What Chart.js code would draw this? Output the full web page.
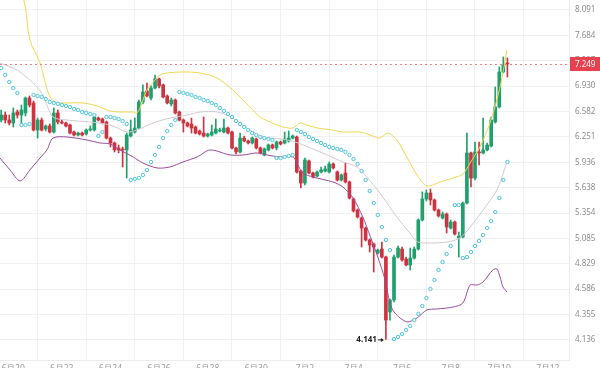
<!DOCTYPE html>
<html>
<head>
<meta charset="utf-8">
<script src="https://cdn.jsdelivr.net/npm/chart.js@4.4.1/dist/chart.umd.min.js"></script>
<style>
  html, body { margin: 0; padding: 0; background: #fff; }
  #wrap { width: 600px; height: 368px; }
</style>
</head>
<body>
<div id="wrap"><canvas id="chart"></canvas></div>
<script>
// 4h candles, index 0 = 6月20 00:00
const firstCandle = -3;
const candlesPerDay = 6;

const opens = [
  6.469, 6.535, 6.469, 6.430, 6.575, 6.535, 6.562, 6.765, 6.697, 6.339,
  6.469, 6.352, 6.391, 6.313, 6.562, 6.443, 6.430, 6.404, 6.313, 6.275,
  6.300, 6.288, 6.339, 6.339, 6.495, 6.482, 6.443, 6.236, 6.174, 6.112,
  6.099, 6.087, 6.262, 6.313, 6.365, 6.711, 6.862, 6.765, 6.904, 7.032,
  6.947, 6.793, 6.684, 6.738, 6.575, 6.469, 6.430, 6.417, 6.378, 6.326,
  6.300, 6.262, 6.275, 6.300, 6.326, 6.313, 6.365, 6.313, 6.112, 6.062,
  6.236, 6.199, 6.174, 6.224, 6.112, 6.025, 6.087, 6.149, 6.112, 6.186,
  6.174, 6.199, 6.236, 6.249, 5.832, 5.691, 5.952, 5.808, 5.773, 5.820,
  5.832, 5.820, 5.916, 5.820, 5.726, 5.808, 5.703, 5.509, 5.387, 5.300,
  5.193, 5.069, 5.027, 4.936, 4.976, 4.896, 4.378, 4.486, 4.896, 4.976,
  4.876, 4.817, 4.886, 4.976, 5.279, 5.509, 5.577, 5.498, 5.387, 5.300,
  5.344, 5.193, 5.257, 5.089, 5.099, 5.464, 6.050, 5.749, 6.062, 6.050,
  6.087, 6.136, 6.443, 6.643, 7.133, 7.264
];
const highs = [
  6.602, 6.575, 6.535, 6.629, 6.602, 6.670, 6.779, 6.793, 6.724, 6.495,
  6.495, 6.404, 6.417, 6.629, 6.602, 6.469, 6.443, 6.417, 6.326, 6.313,
  6.313, 6.352, 6.391, 6.535, 6.509, 6.495, 6.456, 6.249, 6.186, 6.149,
  6.124, 6.300, 6.469, 6.495, 6.738, 6.947, 6.975, 6.933, 7.089, 7.046,
  6.961, 6.807, 6.765, 6.752, 6.589, 6.482, 6.443, 6.495, 6.391, 6.339,
  6.509, 6.300, 6.404, 6.482, 6.365, 6.482, 6.378, 6.326, 6.124, 6.300,
  6.262, 6.211, 6.249, 6.236, 6.124, 6.112, 6.161, 6.161, 6.199, 6.199,
  6.313, 6.326, 6.275, 6.262, 5.844, 5.988, 5.964, 5.820, 5.832, 5.880,
  5.892, 5.940, 5.928, 5.832, 5.796, 5.928, 5.714, 5.520, 5.398, 5.311,
  5.204, 5.079, 5.038, 4.976, 5.048, 4.906, 4.495, 4.916, 5.007, 4.997,
  4.896, 4.986, 4.997, 5.290, 5.589, 5.611, 5.622, 5.509, 5.398, 5.365,
  5.355, 5.279, 5.268, 5.151, 5.476, 6.300, 6.062, 6.186, 6.186, 6.495,
  6.174, 6.509, 6.918, 7.206, 7.354, 7.339
];
const lows = [
  6.443, 6.430, 6.404, 6.378, 6.495, 6.430, 6.522, 6.643, 6.326, 6.236,
  6.326, 6.326, 6.300, 6.300, 6.417, 6.417, 6.378, 6.288, 6.262, 6.262,
  6.262, 6.275, 6.326, 6.326, 6.456, 6.417, 6.224, 6.124, 6.062, 6.050,
  5.880, 5.750, 6.249, 6.300, 6.352, 6.684, 6.779, 6.738, 6.890, 6.904,
  6.765, 6.684, 6.656, 6.549, 6.456, 6.313, 6.378, 6.300, 6.288, 6.275,
  6.249, 6.249, 6.262, 6.288, 6.313, 6.300, 6.288, 6.099, 6.037, 6.050,
  6.186, 6.161, 6.161, 6.099, 6.037, 6.013, 6.074, 6.099, 6.087, 6.149,
  6.161, 6.186, 6.224, 5.808, 5.634, 5.668, 5.796, 5.750, 5.761, 5.808,
  5.820, 5.808, 5.856, 5.714, 5.714, 5.691, 5.509, 5.365, 5.300, 4.997,
  5.058, 4.946, 4.749, 4.926, 4.886, 4.141, 4.307, 4.468, 4.886, 4.856,
  4.807, 4.769, 4.876, 4.966, 5.268, 5.487, 5.442, 5.376, 5.311, 5.290,
  5.141, 5.183, 5.120, 4.896, 5.089, 5.453, 5.645, 5.726, 5.904, 6.037,
  6.074, 6.124, 6.430, 6.629, 7.118, 7.060
];
const closes = [
  6.535, 6.469, 6.430, 6.562, 6.535, 6.602, 6.765, 6.670, 6.339, 6.469,
  6.339, 6.391, 6.313, 6.562, 6.443, 6.430, 6.391, 6.300, 6.275, 6.300,
  6.275, 6.339, 6.352, 6.509, 6.469, 6.430, 6.236, 6.174, 6.087, 6.087,
  6.087, 6.275, 6.339, 6.365, 6.711, 6.848, 6.793, 6.904, 7.032, 6.933,
  6.779, 6.697, 6.738, 6.562, 6.469, 6.430, 6.391, 6.365, 6.300, 6.288,
  6.262, 6.288, 6.313, 6.352, 6.339, 6.365, 6.300, 6.112, 6.062, 6.236,
  6.199, 6.174, 6.236, 6.112, 6.050, 6.099, 6.149, 6.112, 6.186, 6.161,
  6.224, 6.236, 6.262, 5.820, 5.691, 5.964, 5.808, 5.761, 5.820, 5.844,
  5.856, 5.916, 5.868, 5.726, 5.785, 5.703, 5.520, 5.376, 5.311, 5.193,
  5.069, 5.017, 4.997, 4.966, 4.896, 4.307, 4.486, 4.896, 4.986, 4.866,
  4.817, 4.886, 4.976, 5.279, 5.509, 5.577, 5.498, 5.387, 5.322, 5.344,
  5.204, 5.257, 5.130, 5.110, 5.464, 6.050, 5.749, 6.062, 6.050, 6.087,
  6.149, 6.469, 6.643, 7.133, 7.235, 7.249
];

// parabolic SAR, one value per candle
const sarValues = [
  7.191, 7.089, 6.989, 6.904, 6.835, 6.404, 6.404, 6.417,
  6.807, 6.793, 6.779, 6.752, 6.711, 6.697, 6.684, 6.670, 6.656, 6.643, 6.616, 6.602, 6.575, 6.562, 6.549, 6.535,
  6.262, 6.313,
  6.509, 6.509, 6.495, 6.482, 6.456, 6.417,
  5.726, 5.738, 5.750, 5.785, 5.844, 5.940, 6.025, 6.124, 6.236, 6.326, 6.404, 6.469,
  6.848, 6.835, 6.821, 6.807, 6.779, 6.765, 6.738, 6.724, 6.697, 6.670, 6.629, 6.589,
  6.549, 6.509, 6.456, 6.417, 6.378, 6.339, 6.300, 6.275, 6.249, 6.236, 6.224, 6.211,
  5.988, 5.988, 6.001, 6.013, 6.025,
  6.339, 6.313, 6.288, 6.249, 6.224, 6.199, 6.174, 6.149, 6.124, 6.112, 6.099, 6.087,
  6.062, 6.025, 5.976, 5.916, 5.832, 5.726, 5.600, 5.464, 5.333, 5.204, 5.069, 4.966,
  4.144, 4.161, 4.186, 4.221, 4.256, 4.307, 4.361, 4.432, 4.504, 4.588, 4.673, 4.769, 4.846, 4.926, 5.007,
  5.442, 5.442,
  4.886, 4.896, 4.946, 5.007, 5.058, 5.120, 5.193, 5.268, 5.365, 5.520, 5.726, 5.940
];

// bands, read at candle positions
const upperAt = [-3.0, 2.6, 4.1, 6.6, 8.8, 10.3, 13.3, 17.2, 20.7, 23.9, 26.3, 29.6, 30.5, 31.3, 33.0, 35.0, 36.2, 38.0, 41.9, 46.1,
  50.3, 54.2, 58.4, 60.9, 63.4, 66.6, 69.1, 70.8, 72.5, 75.0, 78.9, 81.4, 85.6, 88.1, 90.5, 92.5, 94.7, 96.2, 99.7, 102.1,
  105.4, 108.6, 111.0, 112.8, 115.2, 117.7, 119.4, 120.7, 121.9];
const upperVal = [9.329, 8.257, 7.612, 7.264, 6.807, 6.711, 6.697, 6.697, 6.656, 6.589, 6.575, 6.575, 6.562, 6.629, 6.876, 7.018, 7.089, 7.118, 7.133, 7.118,
  7.046, 6.876, 6.643, 6.509, 6.443, 6.378, 6.365, 6.430, 6.404, 6.365, 6.339, 6.313, 6.313, 6.275, 6.236, 6.300, 6.211, 6.087, 5.785, 5.657,
  5.703, 5.750, 5.796, 5.928, 6.124, 6.430, 6.738, 7.060, 7.459];

const midAt = [-3.3, 0.9, 4.9, 7.3, 9.8, 13.3, 18.9, 23.9, 28.1, 30.5, 34.5, 38.7, 42.9, 46.1, 50.3, 54.2, 58.4, 61.7, 64.1, 67.6,
  70.3, 73.3, 77.5, 81.4, 84.9, 87.3, 90.5, 94.7, 97.9, 99.9, 102.9, 107.1, 110.3, 112.8, 116.0, 119.4, 121.9];
const midVal = [7.264, 7.162, 6.975, 6.807, 6.509, 6.469, 6.443, 6.404, 6.313, 6.339, 6.430, 6.495, 6.535, 6.575, 6.575, 6.495, 6.339, 6.249, 6.236, 6.211,
  6.174, 6.112, 6.025, 5.940, 5.880, 5.761, 5.577, 5.311, 5.141, 5.048, 5.038, 5.048, 5.089, 5.204, 5.387, 5.611, 5.940];

const lowerAt = [-3.3, -0.8, 1.7, 4.1, 6.6, 8.3, 9.8, 13.3, 18.2, 21.4, 23.9, 26.3, 29.6, 32.0, 35.5, 38.7, 41.9, 45.4, 48.6, 53.5,
  56.7, 60.2, 62.6, 65.8, 69.1, 70.0, 71.5, 74.0, 78.9, 81.4, 83.9, 86.3, 88.1, 90.0, 91.8, 93.0, 94.2, 97.2, 99.7, 102.1,
  104.6, 108.6, 111.0, 112.8, 114.5, 116.0, 118.4, 119.4, 120.2, 120.9, 121.9];
const lowerVal = [5.988, 5.844, 5.714, 5.844, 5.988, 6.087, 6.236, 6.249, 6.211, 6.174, 6.161, 6.087, 6.001, 5.928, 5.868, 5.880, 5.940, 6.001, 6.087, 6.025,
  6.025, 6.050, 6.025, 6.001, 6.001, 5.928, 5.808, 5.761, 5.703, 5.645, 5.520, 5.311, 5.110, 4.896, 4.673, 4.459, 4.370, 4.291, 4.326, 4.396,
  4.405, 4.423, 4.459, 4.625, 4.625, 4.654, 4.769, 4.779, 4.701, 4.607, 4.560];

const dateLabels = ['6月20', '6月22', '6月24', '6月26', '6月28', '6月30', '7月2', '7月4', '7月6', '7月8', '7月10', '7月12'];
const yTicks = [4.136, 4.355, 4.586, 4.829, 5.085, 5.354, 5.638, 5.936, 6.251, 6.582, 6.930, 7.297, 7.684, 8.091];

const lastPrice = 7.249;
const lowMark = 4.141;

const GREEN = '#1fa06c';
const RED = '#cd3341';
const FONT = "'Noto Sans', 'Noto Sans CJK SC', sans-serif";

const xOf = (i) => firstCandle + i;
const candleColors = opens.map((o, i) => closes[i] >= o ? GREEN : RED);
const pts = (at, val) => at.map((x, i) => ({ x, y: val[i] }));

const overlay = {
  id: 'overlay',
  afterDatasetsDraw(chart) {
    const { ctx, chartArea, scales } = chart;
    const y = Math.round(scales.y.getPixelForValue(lastPrice)) + 0.5;
    ctx.save();
    ctx.strokeStyle = '#ec7e88';
    ctx.lineWidth = 1;
    ctx.setLineDash([2, 3]);
    ctx.beginPath();
    ctx.moveTo(chartArea.left, y);
    ctx.lineTo(chartArea.right, y);
    ctx.stroke();
    ctx.setLineDash([]);

    // low marker
    const lowIdx = lows.indexOf(Math.min(...lows));
    const lx = scales.x.getPixelForValue(xOf(lowIdx));
    const ly = scales.y.getPixelForValue(lowMark);
    ctx.fillStyle = '#222';
    ctx.font = 'bold 8px ' + FONT;
    ctx.textAlign = 'right';
    ctx.textBaseline = 'middle';
    ctx.fillText(lowMark.toFixed(3), lx - 9, ly);
    ctx.strokeStyle = '#222';
    ctx.beginPath();
    ctx.moveTo(lx - 8, ly + 0.5);
    ctx.lineTo(lx - 3, ly + 0.5);
    ctx.stroke();
    ctx.beginPath();
    ctx.moveTo(lx - 2, ly + 0.5);
    ctx.lineTo(lx - 5, ly - 1.5);
    ctx.lineTo(lx - 5, ly + 2.5);
    ctx.closePath();
    ctx.fill();
    ctx.restore();
  },
  afterDraw(chart) {
    const { ctx, chartArea, scales } = chart;
    const y = scales.y.getPixelForValue(lastPrice);
    ctx.save();
    ctx.fillStyle = '#e8404e';
    ctx.fillRect(chartArea.right + 1, y - 7, 31, 14);
    ctx.fillStyle = '#fff';
    ctx.font = '8px ' + FONT;
    ctx.textAlign = 'left';
    ctx.textBaseline = 'middle';
    ctx.fillText(lastPrice.toFixed(3), chartArea.right + 6, y + 0.5);
    ctx.restore();
  }
};

new Chart(document.getElementById('chart'), {
  type: 'bar',
  data: {
    datasets: [
      {
        type: 'line', data: opens.map((_, i) => ({ x: xOf(i), y: sarValues[i] })),
        showLine: false, pointRadius: 1.7, pointBorderWidth: 1,
        pointBorderColor: '#4cc6dc', pointBackgroundColor: '#ffffff', order: 0
      },
      { type: 'line', data: pts(upperAt, upperVal), borderColor: '#efd84e', borderWidth: 1, pointRadius: 0, tension: 0.3, order: 1 },
      { type: 'line', data: pts(midAt, midVal), borderColor: '#d2c8d2', borderWidth: 1, pointRadius: 0, tension: 0.3, order: 1 },
      { type: 'line', data: pts(lowerAt, lowerVal), borderColor: '#9a4c9a', borderWidth: 1, pointRadius: 0, tension: 0.3, order: 1 },
      {
        data: opens.map((o, i) => ({ x: xOf(i), y: [o, closes[i]] })),
        backgroundColor: candleColors, barThickness: 3, minBarLength: 1, grouped: false, order: 2
      },
      {
        data: opens.map((o, i) => ({ x: xOf(i), y: [lows[i], highs[i]] })),
        backgroundColor: candleColors, barThickness: 1, grouped: false, order: 3
      }
    ]
  },
  options: {
    responsive: true,
    maintainAspectRatio: false,
    animation: false,
    layout: { padding: 0, autoPadding: false },
    plugins: { legend: { display: false }, tooltip: { enabled: false } },
    scales: {
      x: {
        type: 'linear', min: -3.284, max: 137.21, offset: false,
        grid: { color: '#f1f1f1', drawTicks: false },
        border: { color: '#ececec' },
        afterBuildTicks: (s) => { s.ticks = dateLabels.map((_, i) => ({ value: i * 2 * candlesPerDay })); },
        afterFit: (s) => { s.height = 8; s.paddingLeft = 0; s.paddingRight = 0; },
        ticks: {
          padding: 3, autoSkip: false, maxRotation: 0, color: '#9a9a9a',
          font: { size: 8.5, family: FONT },
          callback: (v) => dateLabels[Math.round(v / (2 * candlesPerDay))]
        }
      },
      y: {
        type: 'logarithmic', position: 'right', min: 3.971, max: 8.257,
        grid: { color: '#f1f1f1', drawTicks: false },
        border: { color: '#ececec' },
        afterBuildTicks: (s) => { s.ticks = yTicks.map((v) => ({ value: v })); },
        afterFit: (s) => { s.width = 31; s.paddingTop = 0; s.paddingBottom = 0; },
        ticks: {
          padding: 6, color: '#8c8c8c', font: { size: 8, family: FONT },
          callback: (v) => Number(v).toFixed(3)
        }
      }
    }
  },
  plugins: [overlay]
});
</script>
</body>
</html>
